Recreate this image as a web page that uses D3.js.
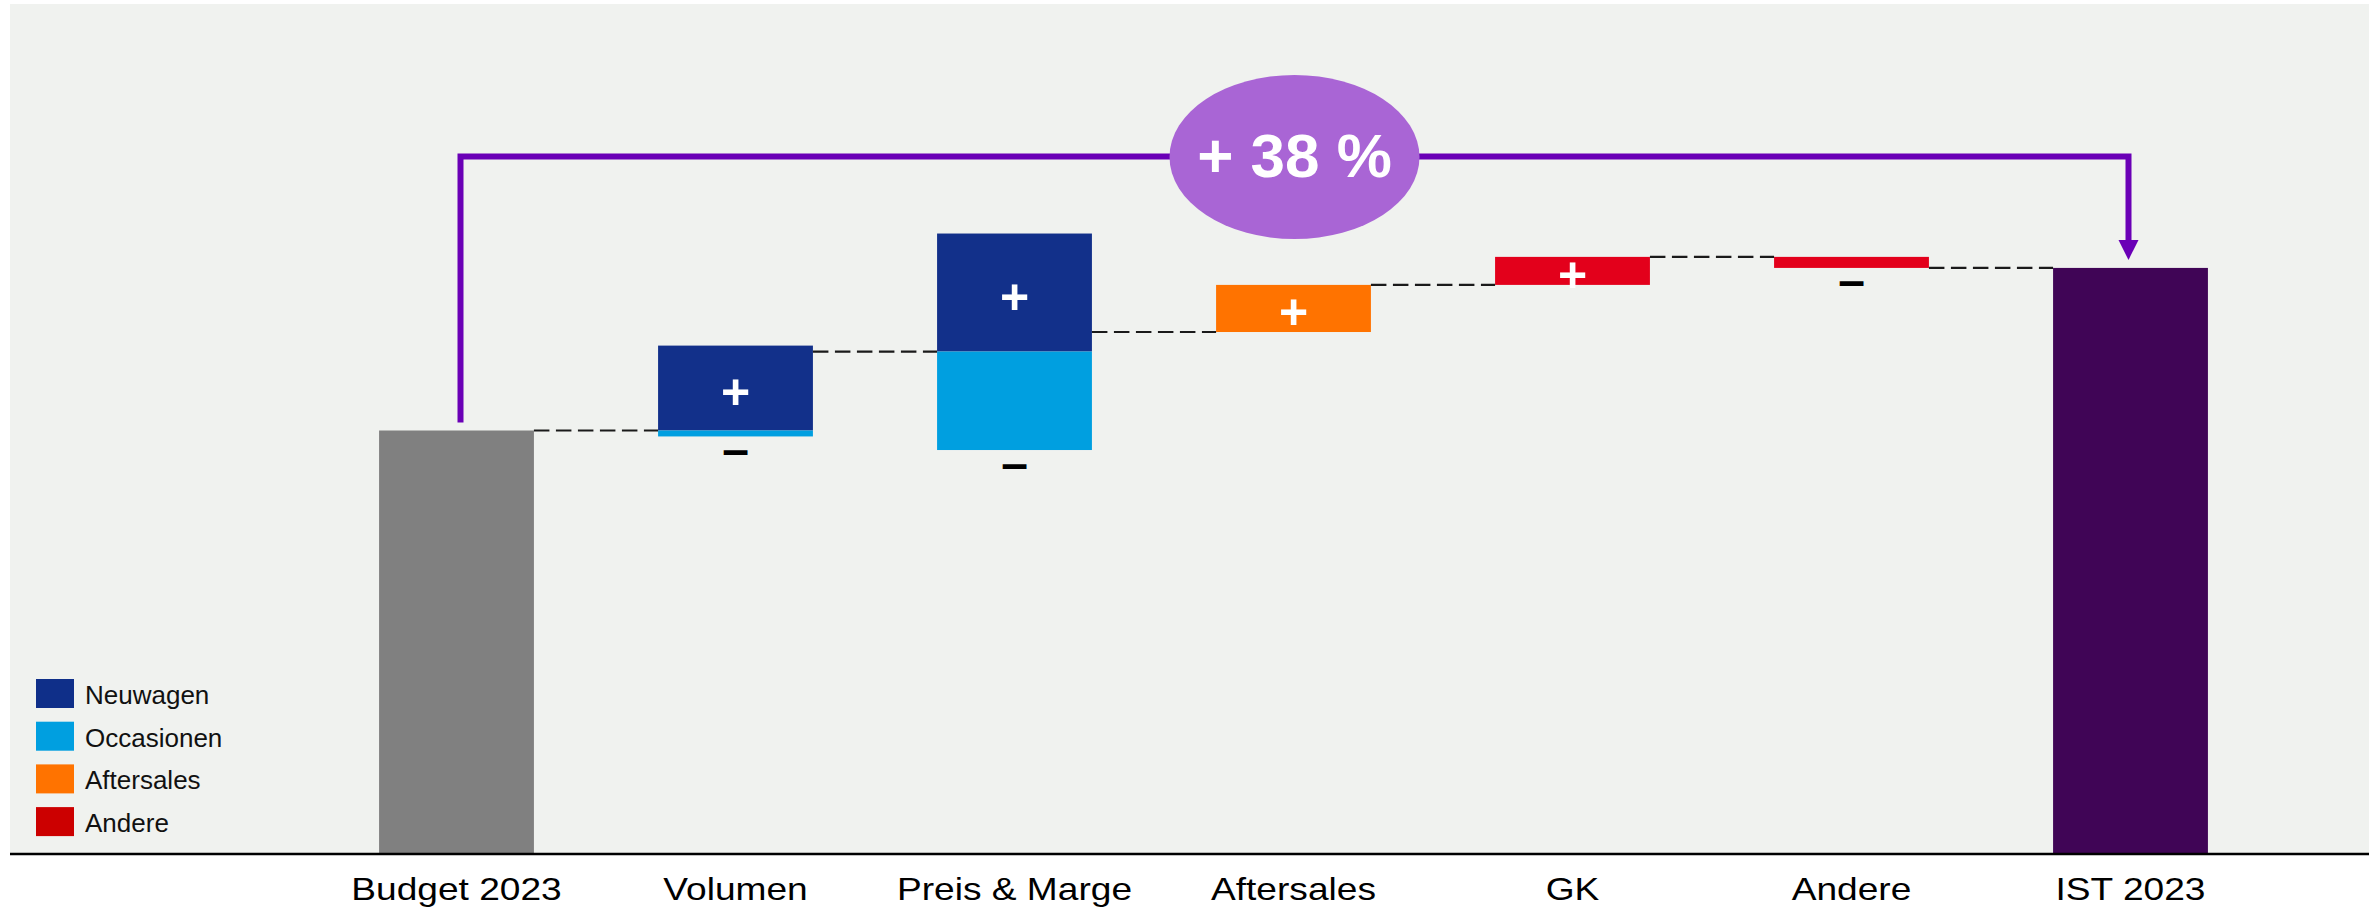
<!DOCTYPE html>
<html>
<head>
<meta charset="utf-8">
<script src="https://cdn.jsdelivr.net/npm/d3@7"></script>
<style>
  body { margin: 0; background: #fff; }
  svg { display: block; font-family: "Liberation Sans", Arial, sans-serif; }
</style>
</head>
<body>
<div id="content"></div>
<script>
let width = 2377;
let height = 909;

// Categories on the x axis
let categories = ["Budget 2023", "Volumen", "Preis & Marge", "Aftersales", "GK", "Andere", "IST 2023"];
// Steps between budget and actual (index: Budget 2023 = 100)
let steps = ["Volumen", "Preis & Marge", "Aftersales", "GK", "Andere"];
let budgetValue = 100;
let istValue = 138.3;
let neuwagenDelta   = [20.0, 27.8, 0, 0, 0];
let occasionenDelta = [-1.4, -23.2, 0, 0, 0];
let aftersalesDelta = [0, 0, 11.1, 0, 0];
let andereDelta     = [0, 0, 0, 6.6, -2.6];

let legendNames = ["Neuwagen", "Occasionen", "Aftersales", "Andere"];
let legendColors = ["#0f2f89", "#009fe0", "#ff7300", "#cc0000"];
let barColors = ["#12308a", "#009fe0", "#ff7300", "#e3001b"];

let svg = d3.select("#content")
    .append("svg")
    .attr("width", width)
    .attr("height", height);

// Grey panel behind the chart
svg.append("rect")
    .attr("x", 10).attr("y", 4)
    .attr("width", 2359).attr("height", 851)
    .attr("fill", "#f0f2ef");

let xScale = d3.scaleBand()
    .domain(categories)
    .range([317, 2270])
    .paddingInner(0.445)
    .paddingOuter(0.2225);

let yScale = d3.scaleLinear()
    .domain([0, 150])
    .range([855, 855 - 150 * 4.245]);

let bw = xScale.bandwidth();

// Budget bar
svg.append("rect")
    .attr("x", xScale("Budget 2023"))
    .attr("y", yScale(budgetValue))
    .attr("width", bw)
    .attr("height", yScale(0) - yScale(budgetValue))
    .attr("fill", "#808080");

// Waterfall steps
let series = [neuwagenDelta, occasionenDelta, aftersalesDelta, andereDelta];
let level = budgetValue;
let prevRight = xScale("Budget 2023") + bw;
let connectors = [];

steps.forEach(function(step, i) {
    let x0 = xScale(step);
    connectors.push({x1: prevRight, x2: x0, v: level});
    let up = level, down = level;
    series.forEach(function(s, k) {
        let d = s[i];
        if (d > 0) {
            svg.append("rect")
                .attr("x", x0).attr("width", bw)
                .attr("y", yScale(up + d))
                .attr("height", yScale(up) - yScale(up + d))
                .attr("fill", barColors[k]);
            up += d;
        } else if (d < 0) {
            svg.append("rect")
                .attr("x", x0).attr("width", bw)
                .attr("y", yScale(down))
                .attr("height", yScale(down + d) - yScale(down))
                .attr("fill", barColors[k]);
            down += d;
        }
    });
    if (up > level) {
        svg.append("text")
            .attr("x", x0 + bw / 2)
            .attr("y", (yScale(up) + yScale(level)) / 2 + 4)
            .attr("text-anchor", "middle")
            .attr("dominant-baseline", "central")
            .attr("font-size", 50)
            .attr("font-weight", "bold")
            .attr("fill", "#fff")
            .text("+");
    }
    if (down < level) {
        svg.append("text")
            .attr("x", x0 + bw / 2)
            .attr("y", yScale(down) + 13)
            .attr("text-anchor", "middle")
            .attr("dominant-baseline", "central")
            .attr("font-size", 48)
            .attr("font-weight", "bold")
            .attr("fill", "#000")
            .text("\u2013");
    }
    level = level + (up - level) + (down - level);
    prevRight = x0 + bw;
});
connectors.push({x1: prevRight, x2: xScale("IST 2023"), v: level});

// IST bar
svg.append("rect")
    .attr("x", xScale("IST 2023"))
    .attr("y", yScale(istValue))
    .attr("width", bw)
    .attr("height", yScale(0) - yScale(istValue))
    .attr("fill", "#400556");

// Dashed connectors between bars
svg.selectAll(".connector")
    .data(connectors)
    .enter()
    .append("line")
    .attr("class", "connector")
    .attr("x1", d => d.x1).attr("x2", d => d.x2)
    .attr("y1", d => yScale(d.v)).attr("y2", d => yScale(d.v))
    .attr("stroke", "#1a1a1a")
    .attr("stroke-width", 2.2)
    .attr("stroke-dasharray", "15.5,6.5");

// Axis
let xAxis = d3.axisBottom(xScale).tickSize(0).tickPadding(22);
let axisG = svg.append("g")
    .attr("transform", "translate(0," + yScale(0) + ")")
    .call(xAxis);
axisG.select(".domain").remove();
axisG.selectAll("text")
    .attr("font-size", 32)
    .attr("font-family", "Liberation Sans, Arial, sans-serif")
    .attr("fill", "#000")
    .attr("transform", "scale(1.16,1)");

svg.append("line")
    .attr("x1", 10).attr("x2", 2369)
    .attr("y1", 854).attr("y2", 854)
    .attr("stroke", "#000")
    .attr("stroke-width", 2.5);

// Bracket with arrow from budget to actual
let bx1 = xScale("Budget 2023") + bw / 2 + 4;
let bx2 = xScale("IST 2023") + bw / 2 - 2;
let by = 156.5;
let tipY = yScale(istValue) - 8;
let purple = "#6a00b6";
svg.append("path")
    .attr("d", "M" + bx1 + "," + (yScale(budgetValue) - 8) + "V" + by + "H" + bx2 + "V" + (tipY - 16))
    .attr("fill", "none")
    .attr("stroke", purple)
    .attr("stroke-width", 6)
    .attr("stroke-linejoin", "miter");
svg.append("path")
    .attr("d", "M" + (bx2 - 10) + "," + (tipY - 20) + "L" + (bx2 + 10) + "," + (tipY - 20) + "L" + bx2 + "," + tipY + "Z")
    .attr("fill", purple);

let cx = (bx1 + bx2) / 2;
svg.append("ellipse")
    .attr("cx", cx).attr("cy", 157)
    .attr("rx", 125).attr("ry", 82)
    .attr("fill", "#a965d5");
let pct = Math.round((istValue / budgetValue - 1) * 100);
svg.append("text")
    .attr("x", cx).attr("y", 177)
    .attr("text-anchor", "middle")
    .attr("font-size", 62)
    .attr("font-weight", "bold")
    .attr("fill", "#fff")
    .text("+ " + pct + " %");

// Legend
let legend = svg.selectAll(".legend")
    .data(legendNames)
    .enter()
    .append("g")
    .attr("class", "legend")
    .attr("transform", (d, i) => "translate(36," + (679 + i * 42.7) + ")");
legend.append("rect")
    .attr("width", 38).attr("height", 29)
    .attr("fill", (d, i) => legendColors[i]);
legend.append("text")
    .attr("x", 49).attr("y", 25)
    .attr("font-size", 26)
    .attr("fill", "#111")
    .text(d => d);
</script>
</body>
</html>
